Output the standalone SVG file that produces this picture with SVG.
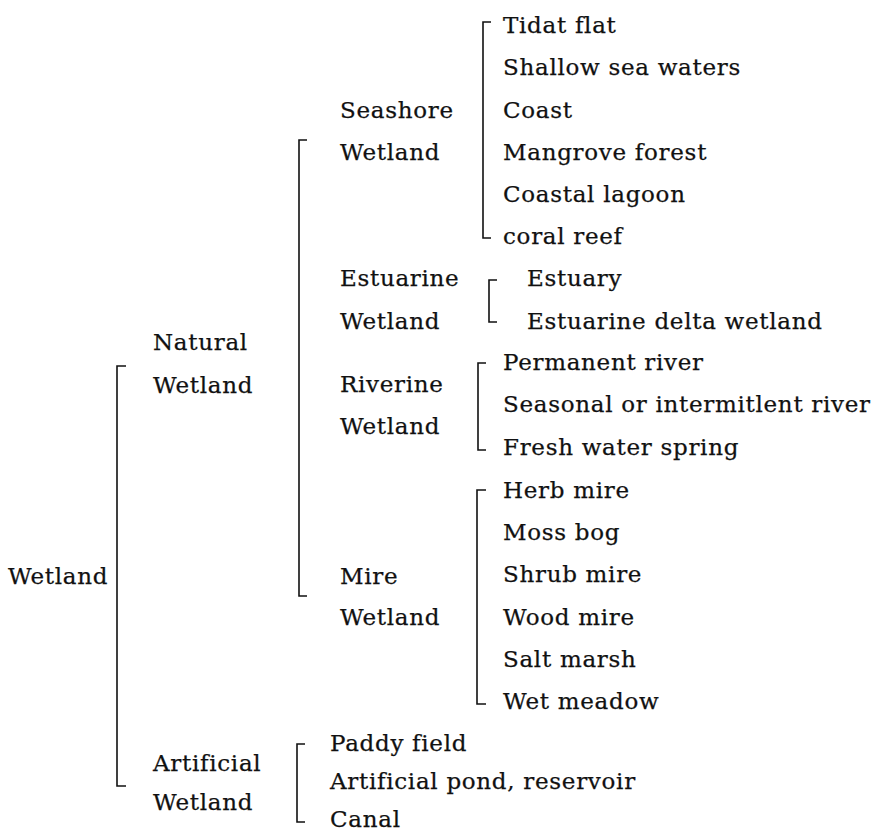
<svg xmlns="http://www.w3.org/2000/svg" width="874" height="836" viewBox="0 0 874 836">
<style>
text{font-family:"DejaVu Serif","Liberation Serif",serif;font-size:23px;letter-spacing:0.7px;fill:#111;stroke:#111;stroke-width:0.25;}
.br{fill:none;stroke:#111;stroke-width:1.6;}
</style>
<rect width="874" height="836" fill="#fff"/>
<g id="connectors">
<path class="br" d="M126 366 H117 V786 H126"/>
<path class="br" d="M307 140 H299 V596 H307"/>
<path class="br" d="M491 22 H483 V238 H491"/>
<path class="br" d="M497 280 H489 V322 H497"/>
<path class="br" d="M486 363 H478 V450 H486"/>
<path class="br" d="M486 490 H477 V704 H486"/>
<path class="br" d="M305 744 H297 V822 H305"/>
</g>
<g id="wetland"><text x="8" y="584">Wetland</text></g>
<g id="natural"><text x="153" y="350">Natural</text><text x="153" y="393">Wetland</text></g>
<g id="artificial"><text x="153" y="771">Artificial</text><text x="153" y="810">Wetland</text></g>
<g id="seashore"><text x="340" y="118">Seashore</text><text x="340" y="160">Wetland</text></g>
<g id="estuarine"><text x="340" y="286">Estuarine</text><text x="340" y="329">Wetland</text></g>
<g id="riverine"><text x="340" y="392">Riverine</text><text x="340" y="434">Wetland</text></g>
<g id="mire"><text x="340" y="584">Mire</text><text x="340" y="625">Wetland</text></g>
<g id="seashore-items">
<text x="503" y="33">Tidat flat</text>
<text x="503" y="75">Shallow sea waters</text>
<text x="503" y="118">Coast</text>
<text x="503" y="160">Mangrove forest</text>
<text x="503" y="202">Coastal lagoon</text>
<text x="503" y="244">coral reef</text>
</g>
<g id="estuarine-items">
<text x="527" y="286">Estuary</text>
<text x="527" y="329">Estuarine delta wetland</text>
</g>
<g id="riverine-items">
<text x="503" y="370">Permanent river</text>
<text x="503" y="412">Seasonal or intermitlent river</text>
<text x="503" y="455">Fresh water spring</text>
</g>
<g id="mire-items">
<text x="503" y="498">Herb mire</text>
<text x="503" y="540">Moss bog</text>
<text x="503" y="582">Shrub mire</text>
<text x="503" y="625">Wood mire</text>
<text x="503" y="667">Salt marsh</text>
<text x="503" y="709">Wet meadow</text>
</g>
<g id="artificial-items">
<text x="330" y="751">Paddy field</text>
<text x="330" y="789">Artificial pond, reservoir</text>
<text x="330" y="827">Canal</text>
</g>
</svg>
